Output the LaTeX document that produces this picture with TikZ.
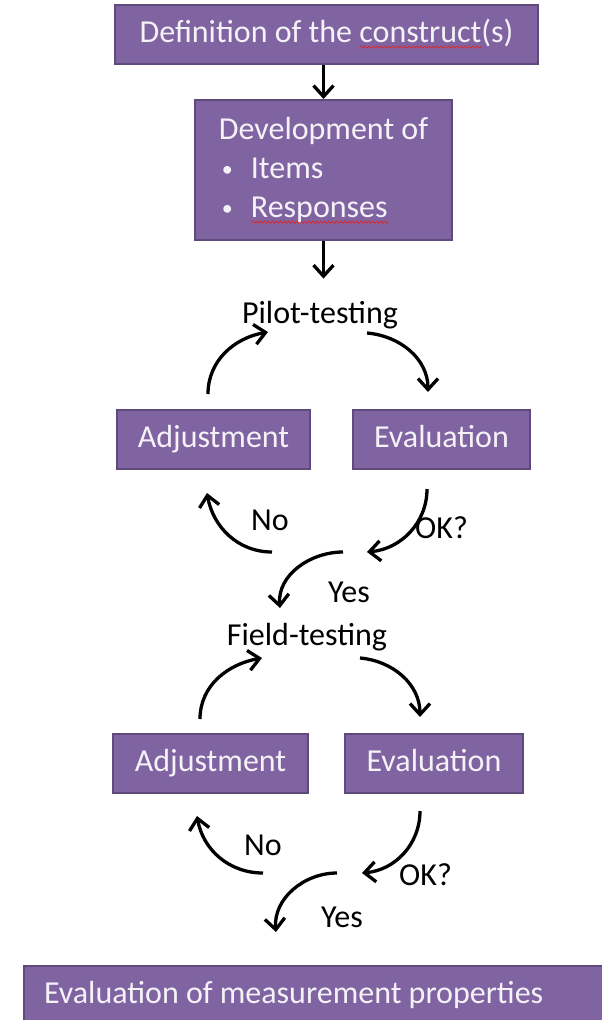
\documentclass[tikz,border=0pt]{standalone}
\usepackage{fontspec}
\setmainfont{Carlito}
\usepackage{tikz}
\usetikzlibrary{arrows.meta,positioning,decorations.pathmorphing}
\definecolor{boxfill}{HTML}{8064A2}
\definecolor{boxline}{HTML}{5F4A7C}
\definecolor{boxtext}{HTML}{F4F2F7}
\definecolor{spellred}{HTML}{E02828}
\newcommand\spellmark[1]{\setbox0=\hbox{#1}%
  \rlap{\raisebox{-6pt}[0pt][0pt]{\tikz\draw[spellred,line width=0.8pt,decorate,
    decoration={snake,amplitude=1pt,segment length=4pt}] (0,0) -- (\wd0,0);}}\box0}
\newcommand\blt{\hspace*{3pt}\makebox[29pt][l]{\raisebox{2pt}{\fontsize{22}{22}\selectfont\textbullet}}}
\tikzset{
  >={Straight Barb[length=11pt,width=20pt]},
  % boxes
  pbox/.style={draw=boxline,fill=boxfill,line width=2pt,text=boxtext,inner xsep=20pt,
               inner ysep=0pt,text height=23pt,text depth=7pt,minimum height=59pt,
               font=\fontsize{32}{39}\selectfont},
  lbl/.style={font=\fontsize{32}{39}\selectfont,text=black,inner sep=0pt},
  % arrows
  arr/.style={->,draw=black,line width=3.3pt},
  curv/.style={->,draw=black,line width=3.3pt},
}

\begin{document}
\begin{tikzpicture}[x=1pt,y=1pt]
  \useasboundingbox (0,0) rectangle (602,-1020);
  % top
  \node[pbox,minimum width=423pt] (def) at (326.5,-34.5) {Definition of the \spellmark{construct}(s)};
  \node[pbox,align=left,text height=,text depth=,minimum height=140pt,
        minimum width=257pt] (dev) at (323.5,-170)
    {Development of\\ \blt Items\\ \blt\spellmark{Responses}};
  \draw[arr] (dev.north |- def.south) -- (dev.north);
  % pilot loop
  \node[lbl,anchor=base] (pilot) at (320,-323) {Pilot-testing};
  \node[pbox,minimum width=193pt] (adj1) at (213.5,-439.5) {Adjustment};
  \node[pbox,minimum width=177pt] (eva1) at (441.5,-439.5) {Evaluation};
  \coordinate (dec1) at (320,-552);
  \node[lbl,anchor=base] (no1) at (270,-530) {No};
  \node[lbl,anchor=base] (ok1) at (441.5,-538) {OK?};
  \node[lbl,anchor=base] (yes1) at (349,-602) {Yes};
  % field loop
  \node[lbl,anchor=base] (field) at (307,-645) {Field-testing};
  \node[pbox,minimum width=195pt] (adj2) at (210.5,-763.5) {Adjustment};
  \node[pbox,minimum width=178pt] (eva2) at (434,-763.5) {Evaluation};
  \coordinate (dec2) at (310,-873);
  \node[lbl,anchor=base] (no2) at (263,-855) {No};
  \node[lbl,anchor=base] (ok2) at (425.5,-885) {OK?};
  \node[lbl,anchor=base] (yes2) at (342,-927) {Yes};
  % bottom
  \node[pbox,anchor=base west,text height=37pt,text depth=25pt]
    (final) at (23,-1003) {\makebox[550pt][l]{Evaluation of measurement properties}};

  \coordinate (pin) at ([yshift=22pt]pilot.north);
  \draw[arr] (dev.south) -- (dev.south |- pin);

  \draw[curv] ([shift={(-5.5,15)}]adj1.north) to[out=90,in=190] ([shift={(-52,-9)}]pilot.base);
  \draw[curv] ([shift={(47,-10)}]pilot.base) to[out=-5,in=90] ([shift={(-13.5,17)}]eva1.north);
  \draw[curv] ([shift={(-14.5,-19)}]eva1.south) to[out=-90,in=5] ([shift={(47,0)}]dec1);
  \draw[curv] ([shift={(-48,0)}]dec1) to[out=180,in=-80] ([shift={(-6.5,-23)}]adj1.south);
  \draw[curv] ([shift={(23,0)}]dec1) to[out=180,in=95] ([shift={(-27,37)}]field.base);

  \draw[curv] ([shift={(-10.5,14)}]adj2.north) to[out=90,in=190] ([shift={(-45,-13)}]field.base);
  \draw[curv] ([shift={(53,-13)}]field.base) to[out=-5,in=90] ([shift={(-14,16)}]eva2.north);
  \draw[curv] ([shift={(-14,-17)}]eva2.south) to[out=-90,in=5] ([shift={(52,0)}]dec2);
  \draw[curv] ([shift={(-47,0)}]dec2) to[out=180,in=-80] ([shift={(-13.5,-22)}]adj2.south);
  \draw[curv] ([shift={(27,0)}]dec2) to[out=180,in=95] ([shift={(-43,33)}]final.north);
\end{tikzpicture}
\end{document}
